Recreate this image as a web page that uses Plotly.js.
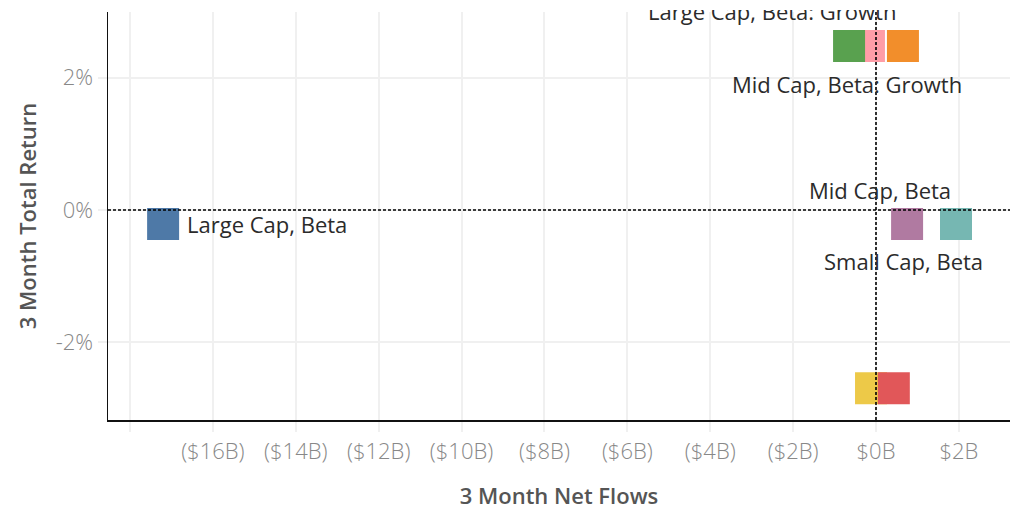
<!DOCTYPE html>
<html>
<head>
<meta charset="utf-8">
<script src="https://cdn.plot.ly/plotly-3.0.1.min.js"></script>
<style>
  html, body { margin: 0; padding: 0; width: 1010px; height: 510px; overflow: hidden; background: #fff; }
  #clip { position: absolute; left: 0; top: 10px; width: 1010px; height: 500px; overflow: hidden; }
  #chart { position: absolute; left: 0; top: 0; width: 1010px; height: 500px; }
</style>
</head>
<body>
<div id="clip"><div id="chart"></div></div>
<script>
// ---- data ----
const categories = [
  "Large Cap, Beta",
  "Small Cap, Beta: Growth",
  "Mid Cap, Beta: Growth",
  "Large Cap, Beta: Growth",
  "Small Cap, Beta",
  "Mid Cap, Beta",
  "Mid Cap, Beta: Value",
  "Large Cap, Beta: Value"
];
const netFlows = [-17.2, -0.17, -0.65, 0.65, 0.75, 1.93, -0.12, 0.43];      // $B
const totalReturn = [-0.21, 2.475, 2.475, 2.475, -0.21, -0.21, -2.69, -2.69]; // %
const colors = ["#4e79a7", "#ff9da7", "#59a14f", "#f28e2b", "#b07aa1", "#76b7b2", "#edc948", "#e15759"];

const xTickVals = [-18, -16, -14, -12, -10, -8, -6, -4, -2, 0, 2];
const xTickLabels = ["", "($16B)", "($14B)", "($12B)", "($10B)", "($8B)", "($6B)", "($4B)", "($2B)", "$0B", "$2B"];
const yTickVals = [-2, 0, 2];
const yTickLabels = ["-2%", "0%", "2%"];

// which marks carry a visible label, and where the label sits (pixel offsets)
const labelPlacement = {
  "Large Cap, Beta":         { dx: 22,   dy: 0,   anchor: "left" },
  "Large Cap, Beta: Growth": { dx: -131, dy: 35,  anchor: "center" },
  "Mid Cap, Beta: Growth":   { dx: -2,   dy: -38, anchor: "center" },
  "Mid Cap, Beta":           { dx: -76,  dy: 34,  anchor: "center" },
  "Small Cap, Beta":         { dx: -4,   dy: -37, anchor: "center" }
};

const FONT = "'Open Sans', 'Noto Sans', sans-serif";

const trace = {
  type: "scatter",
  mode: "markers",
  x: netFlows,
  y: totalReturn,
  text: categories,
  hoverinfo: "text",
  marker: { symbol: "square", size: 32, color: colors, line: { width: 0 } },
  cliponaxis: false,
  showlegend: false
};

const annotations = [];
categories.forEach((c, i) => {
  const p = labelPlacement[c];
  if (!p) return;
  annotations.push({
    x: netFlows[i], y: totalReturn[i], xref: "x", yref: "y",
    text: c, showarrow: false,
    xanchor: p.anchor, yanchor: "middle",
    xshift: p.dx, yshift: p.dy,
    font: { family: FONT, size: 22, color: "#2b2b2b" }
  });
});

const layout = {
  width: 1010, height: 500,
  margin: { l: 108, r: 0, t: 2, b: 90, pad: 0 },
  paper_bgcolor: "#fff", plot_bgcolor: "#fff",
  xaxis: {
    range: [-18.53, 3.233],
    tickmode: "array", tickvals: xTickVals, ticktext: xTickLabels,
    showgrid: true, gridcolor: "#f0f0f0", gridwidth: 2,
    zeroline: false,
    showline: true, linecolor: "#111", linewidth: 1.5,
    ticks: "outside", ticklen: 10, tickwidth: 2, tickcolor: "#f0f0f0",
    ticklabelstandoff: 1,
    tickfont: { family: FONT, size: 22, color: "#888888", weight: 300 },
    title: { text: "3 Month Net Flows", standoff: 26,
             font: { family: FONT, size: 22, color: "#555555", weight: 600 } },
    fixedrange: true
  },
  yaxis: {
    range: [-3.170, 2.989],
    tickmode: "array", tickvals: yTickVals, ticktext: yTickLabels,
    showgrid: true, gridcolor: "#f0f0f0", gridwidth: 2,
    zeroline: false,
    showline: true, linecolor: "#111", linewidth: 1.5,
    ticks: "outside", ticklen: 9, tickwidth: 2, tickcolor: "#f0f0f0",
    ticklabelstandoff: 0,
    tickfont: { family: FONT, size: 22, color: "#888888", weight: 300 },
    title: { text: "3 Month Total Return", standoff: 13,
             font: { family: FONT, size: 22, color: "#555555", weight: 600 } },
    fixedrange: true
  },
  shapes: [
    { type: "line", xref: "x", yref: "paper", x0: 0, x1: 0, y0: 0, y1: 1, layer: "above",
      line: { color: "#000", width: 1.6, dash: "3px,2px" } },
    { type: "line", xref: "paper", yref: "y", x0: 0, x1: 1, y0: 0, y1: 0, layer: "above",
      line: { color: "#000", width: 1.6, dash: "3px,2px" } }
  ],
  annotations: annotations,
  hovermode: "closest"
};

Plotly.newPlot("chart", [trace], layout, { displayModeBar: false, staticPlot: true });
</script>
</body>
</html>
